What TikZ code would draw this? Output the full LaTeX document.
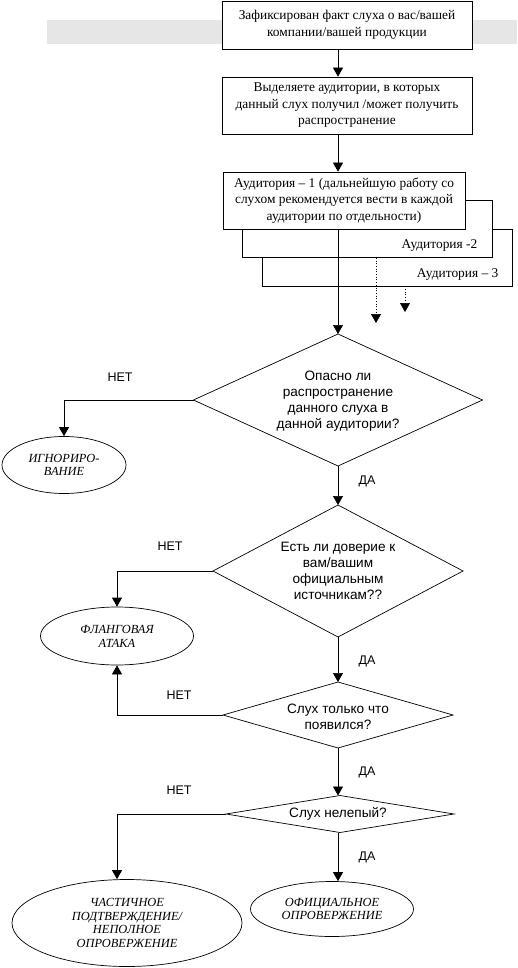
\documentclass[tikz,border=0pt]{standalone}
\usepackage{fontspec}
\setmainfont{Liberation Serif}
\setsansfont{Liberation Sans}
\usetikzlibrary{arrows.meta,shapes.geometric}
\definecolor{bandgray}{HTML}{E6E6E6}
\begin{document}
\begin{tikzpicture}[x=1pt,y=-1pt,line width=0.7pt,
  >={Triangle[width=10pt,length=9pt]},
  stepbox/.style={draw,fill=white,align=center,inner sep=0pt,minimum width=250pt,minimum height=57pt,font=\fontsize{13.4}{16.5}\selectfont},
  askdia/.style={draw,diamond,inner sep=0pt,outer sep=0pt},
  asktext/.style={align=center,font=\sffamily\fontsize{13.6}{15.8}\selectfont},
  outcome/.style={draw,ellipse,inner sep=0pt,align=center,font=\itshape\fontsize{12.4}{13.8}\selectfont},
  answer/.style={font=\sffamily\fontsize{12.5}{14}\selectfont}]
\useasboundingbox (0,0) rectangle (517,968);
\fill[bandgray] (47,20) rectangle (517,44);
% boxes
\node[stepbox,minimum height=48pt] (fact) at (347,25) {Зафиксирован факт слуха о вас/вашей\\компании/вашей продукции};
\node[stepbox] (plan) at (347,105.5) {Выделяете аудитории, в которых\\данный слух получил /может получить\\распространение};
\node[stepbox] (aud3) at (387,257.5) {};
\node[anchor=east,font=\fontsize{13.4}{16.5}\selectfont] (aud3t) at (502,275) {Аудитория – 3};
\node[stepbox] (aud2) at (367,229) {};
\node[anchor=east,font=\fontsize{13.4}{16.5}\selectfont] (aud2t) at (481,246) {Аудитория -2};
\node[stepbox,minimum width=242pt] (aud1) at (344,200.5) {Аудитория – 1 (дальнейшую работу со\\слухом рекомендуется вести в каждой\\аудитории по отдельности)};
% questions
\node[askdia,minimum width=289pt,minimum height=132pt] (d1) at (338,400) {};
\node[asktext] (q1) at (338,401) {Опасно ли\\распространение\\данного слуха в\\данной аудитории?};
\node[askdia,minimum width=250pt,minimum height=132pt] (d2) at (338,571) {};
\node[asktext] (q2) at (338,571) {Есть ли доверие к\\вам/вашим\\официальным\\источникам??};
\node[askdia,minimum width=230pt,minimum height=66pt] (d3) at (338,715) {};
\node[asktext] (q3) at (338,717) {Слух только что\\появился?};
\node[askdia,minimum width=228pt,minimum height=37pt] (d4) at (340,814) {};
\node[asktext] (q4) at (338,814) {Слух нелепый?};
% outcomes
\node[outcome,minimum width=124pt,minimum height=57pt] (ign) at (64,465) {ИГНОРИРО-\\ВАНИЕ};
\node[outcome,minimum width=153pt,minimum height=58pt] (flank) at (117,636) {ФЛАНГОВАЯ\\АТАКА};
\node[outcome,minimum width=230pt,minimum height=87pt] (partial) at (127,923) {ЧАСТИЧНОЕ\\ПОДТВЕРЖДЕНИЕ/\\НЕПОЛНОЕ\\ОПРОВЕРЖЕНИЕ};
\node[outcome,minimum width=163pt,minimum height=55pt] (official) at (332,909) {ОФИЦИАЛЬНОЕ\\ОПРОВЕРЖЕНИЕ};
% answers
\node[answer] (no1) at (120,377) {НЕТ};
\node[answer] (yes1) at (367,481) {ДА};
\node[answer] (no2) at (170,546) {НЕТ};
\node[answer] (yes2) at (367,661) {ДА};
\node[answer] (no3) at (179,695) {НЕТ};
\node[answer] (yes3) at (367,772) {ДА};
\node[answer] (no4) at (179,790) {НЕТ};
\node[answer] (yes4) at (367,857) {ДА};
% connectors
\coordinate (dot2) at (376,323);
\coordinate (dot3) at (405,312);
\draw[->] (fact.south -| d1) -- (plan.north -| d1);
\draw[->] (plan.south -| d1) -- (aud1.north -| d1);
\draw[->] (aud1.south -| d1) -- (d1.north);
\draw[->,dotted] (aud2.south -| dot2) -- (dot2);
\draw[->,dotted] (aud3.south -| dot3) -- (dot3);
\draw[->] (d1.west) -| (ign.north);
\draw[->] (d1.south) -- (d2.north);
\draw[->] (d2.west) -| (flank.north);
\draw[->] (d2.south) -- (d3.north);
\draw[->] (d3.west) -| (flank.south);
\draw[->] (d3.south) -- (d4.north -| d3);
\draw[->] (d4.west) -| ([xshift=-10pt]partial.north);
\draw[->] (d4.south -| d3) -- (official.north -| d3);
\end{tikzpicture}
\end{document}
